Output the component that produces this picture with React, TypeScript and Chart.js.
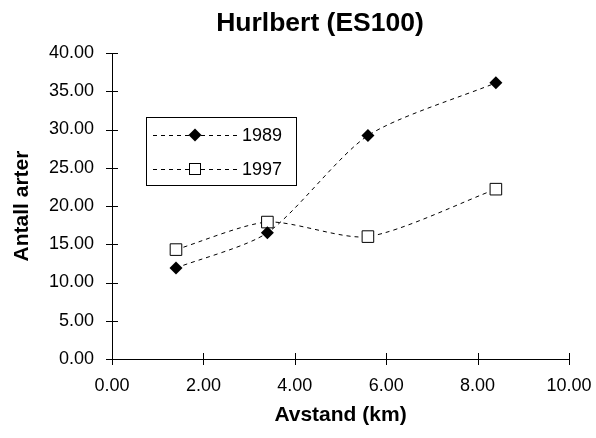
import { useEffect, useRef } from 'react';
import { Chart, registerables } from 'chart.js';

Chart.register(...registerables);

const distances = [1.4, 3.4, 5.6, 8.4];
const species1989 = [11.9, 16.5, 29.2, 36.1];
const species1997 = [14.3, 17.9, 16.0, 22.2];
const seriesLabels = ['1989', '1997'];
const chartTitle = 'Hurlbert (ES100)';
const xTitle = 'Avstand (km)';
const yTitle = 'Antall arter';

const FONT = '"Liberation Sans", Arial, sans-serif';

function drawMarker(ctx: CanvasRenderingContext2D, kind: string, x: number, y: number) {
  ctx.save();
  ctx.setLineDash([]);
  ctx.lineWidth = 1;
  ctx.strokeStyle = '#000';
  if (kind === 'diamond') {
    ctx.fillStyle = '#000';
    ctx.beginPath();
    ctx.moveTo(x, y - 6.5);
    ctx.lineTo(x + 6.5, y);
    ctx.lineTo(x, y + 6.5);
    ctx.lineTo(x - 6.5, y);
    ctx.closePath();
    ctx.fill();
  } else {
    ctx.fillStyle = '#fff';
    ctx.fillRect(x - 6, y - 6, 12, 12);
    ctx.strokeRect(x - 5.5, y - 5.5, 11, 11);
  }
  ctx.restore();
}

const decorPlugin = {
  id: 'decor',
  afterDraw(chart: any) {
    const ctx: CanvasRenderingContext2D = chart.ctx;
    const xs = chart.scales.x;
    const ys = chart.scales.y;
    ctx.save();
    // tick marks crossing the axes
    ctx.strokeStyle = '#000';
    ctx.lineWidth = 1;
    ctx.beginPath();
    ys.ticks.forEach((t: any) => {
      const py = Math.round(ys.getPixelForValue(t.value)) + 0.5;
      ctx.moveTo(xs.left - 6, py);
      ctx.lineTo(xs.left + 6, py);
    });
    xs.ticks.forEach((t: any) => {
      const px = Math.round(xs.getPixelForValue(t.value)) + 0.5;
      ctx.moveTo(px, ys.bottom + 6);
      ctx.lineTo(px, ys.bottom - 6);
    });
    ctx.stroke();

    // title
    ctx.fillStyle = '#000';
    ctx.font = `bold 26.5px ${FONT}`;
    ctx.textAlign = 'center';
    ctx.textBaseline = 'middle';
    ctx.fillText(chartTitle, 320, 24);

    // legend
    const bx = 146.5, by = 117.5, bw = 150, bh = 68;
    ctx.fillStyle = '#fff';
    ctx.fillRect(bx, by, bw, bh);
    ctx.strokeStyle = '#000';
    ctx.strokeRect(bx, by, bw, bh);
    const rows = [
      { label: seriesLabels[0], marker: 'diamond', y: 135 },
      { label: seriesLabels[1], marker: 'square', y: 169 },
    ];
    rows.forEach((r) => {
      ctx.beginPath();
      ctx.setLineDash([4, 4]);
      ctx.moveTo(153, r.y + 0.5);
      ctx.lineTo(240, r.y + 0.5);
      ctx.stroke();
      ctx.setLineDash([]);
      drawMarker(ctx, r.marker, 195, r.y);
      ctx.fillStyle = '#000';
      ctx.font = `18px ${FONT}`;
      ctx.textAlign = 'left';
      ctx.textBaseline = 'middle';
      ctx.fillText(r.label, 242, r.y + 1);
    });
    ctx.restore();
  },
};

export default function App() {
  const ref = useRef<HTMLCanvasElement | null>(null);

  useEffect(() => {
    if (!ref.current) return;
    Chart.defaults.font.family = FONT;
    const chart = new Chart(ref.current, {
      type: 'line',
      data: {
        datasets: [
          {
            label: seriesLabels[0],
            data: distances.map((x, i) => ({ x, y: species1989[i] })),
            borderColor: '#000',
            borderWidth: 1,
            borderDash: [4, 4],
            tension: 0.25,
            pointStyle: 'rectRot',
            pointRadius: 6.5,
            pointBackgroundColor: '#000',
            pointBorderColor: '#000',
            pointBorderWidth: 0,
            fill: false,
          },
          {
            label: seriesLabels[1],
            data: distances.map((x, i) => ({ x, y: species1997[i] })),
            borderColor: '#000',
            borderWidth: 1,
            borderDash: [4, 4],
            tension: 0.25,
            pointStyle: 'rect',
            pointRadius: 8.2,
            pointBackgroundColor: '#fff',
            pointBorderColor: '#000',
            pointBorderWidth: 1,
            fill: false,
          },
        ],
      },
      options: {
        responsive: false,
        animation: false,
        events: [],
        layout: { padding: { left: 0, right: 27, top: 53, bottom: 0 } },
        plugins: {
          legend: { display: false },
          title: { display: false },
          tooltip: { enabled: false },
        },
        scales: {
          x: {
            type: 'linear',
            min: 0,
            max: 10,
            afterFit: (s: any) => { s.height = 79; },
            ticks: {
              stepSize: 2,
              callback: (v: any) => Number(v).toFixed(2),
              font: { size: 18 },
              color: '#000',
              padding: 0,
              maxRotation: 0,
            },
            grid: { drawOnChartArea: false, drawTicks: true, tickLength: 16, color: 'rgba(0,0,0,0)' },
            border: { color: '#000', width: 1 },
            title: {
              display: true,
              text: xTitle,
              font: { size: 21, weight: 'bold' },
              color: '#000',
              padding: { top: 0, bottom: 10 },
            },
          },
          y: {
            type: 'linear',
            min: 0,
            max: 40,
            afterFit: (s: any) => { s.width = 112; },
            ticks: {
              stepSize: 5,
              callback: (v: any) => Number(v).toFixed(2),
              font: { size: 18 },
              color: '#000',
              padding: 12,
            },
            grid: { drawOnChartArea: false, drawTicks: true, tickLength: 6, color: 'rgba(0,0,0,0)' },
            border: { color: '#000', width: 1 },
            title: {
              display: true,
              text: yTitle,
              font: { size: 21, weight: 'bold' },
              color: '#000',
              padding: { top: 10, bottom: 0 },
            },
          },
        },
      },
      plugins: [decorPlugin],
    });
    return () => chart.destroy();
  }, []);

  return (
    <div style={{ position: 'absolute', left: 0, top: 0, width: 596, height: 438, background: '#fff' }}>
      <canvas ref={ref} width={596} height={438} />
    </div>
  );
}
